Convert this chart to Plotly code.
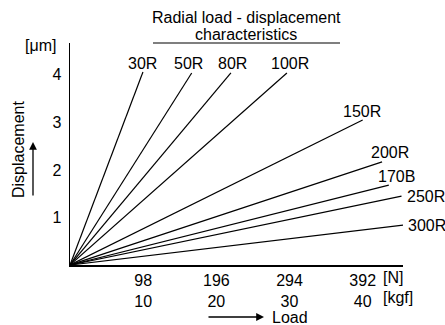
import plotly.graph_objects as go

# ---- data ----
series_names = ["30R", "50R", "80R", "100R", "150R", "200R", "170B", "250R", "300R"]
load_end_N = [97.7, 163, 215.5, 290.5, 392, 418, 427, 444, 446]
disp_end_um = [4.06, 4.04, 4.04, 4.04, 3.05, 2.17, 1.68, 1.45, 0.84]

x_tick_vals = [98, 196, 294, 392]
x_tick_N = ["98", "196", "294", "392"]
x_tick_kgf = ["10", "20", "30", "40"]
y_tick_vals = [1, 2, 3, 4]

FONT = "Liberation Sans, Arial, Helvetica, sans-serif"
FS = 16

fig = go.Figure()
for name, xe, ye in zip(series_names, load_end_N, disp_end_um):
    fig.add_trace(go.Scatter(x=[0, xe], y=[0, ye], mode="lines",
                             line=dict(color="black", width=1.2),
                             name=name, showlegend=False, hoverinfo="skip"))

# label offsets (style only)
label_style = {
    "30R": dict(xanchor="center", xshift=0, yshift=9),
    "50R": dict(xanchor="center", xshift=-3, yshift=9),
    "80R": dict(xanchor="center", xshift=2, yshift=9),
    "100R": dict(xanchor="center", xshift=3, yshift=9),
    "150R": dict(xanchor="center", xshift=-1, yshift=9),
    "200R": dict(xanchor="center", xshift=8, yshift=9),
    "170B": dict(xanchor="center", xshift=8, yshift=9),
    "250R": dict(xanchor="left", xshift=3, yshift=0),
    "300R": dict(xanchor="left", xshift=3, yshift=0),
}
for name, xe, ye in zip(series_names, load_end_N, disp_end_um):
    st = label_style[name]
    fig.add_annotation(x=xe, y=ye, xref="x", yref="y", text=name, showarrow=False,
                       xanchor=st["xanchor"], yanchor="middle",
                       xshift=st["xshift"], yshift=st["yshift"],
                       font=dict(family=FONT, size=FS, color="black"))

W, H = 445, 325
L, R, T, B = 70, 42, 43, 60
pw, ph = W - L - R, H - T - B

def px(x):
    return (x - L) / pw

def py(y):
    return (H - B - y) / ph

ann = []
ann.append(dict(x=px(246), y=py(17), text="Radial load - displacement"))
ann.append(dict(x=px(246), y=py(35), text="characteristics"))
ann.append(dict(x=px(40), y=py(45), text="[μm]"))
ann.append(dict(x=px(393), y=py(277), text="[N]"))
ann.append(dict(x=px(398), y=py(297), text="[kgf]"))
ann.append(dict(x=px(290), y=py(317), text="Load"))
ann.append(dict(x=px(18), y=py(150), text="Displacement", textangle=-90))
for a in ann:
    fig.add_annotation(xref="paper", yref="paper", showarrow=False,
                       xanchor="center", yanchor="middle",
                       font=dict(family=FONT, size=FS, color="black"), **a)

# arrows
fig.add_annotation(xref="paper", yref="paper", x=px(33), y=py(142), ax=0, ay=55,
                   text="", showarrow=True, arrowhead=2, arrowsize=1.2,
                   arrowwidth=1.3, arrowcolor="black")
fig.add_annotation(xref="paper", yref="paper", x=px(264), y=py(317), ax=-57, ay=0,
                   text="", showarrow=True, arrowhead=2, arrowsize=1.2,
                   arrowwidth=1.3, arrowcolor="black")

# underline of title
fig.add_shape(type="line", xref="paper", yref="paper", x0=px(153), x1=px(340),
              y0=1.0, y1=1.0, line=dict(color="black", width=1.2))

fig.update_xaxes(range=[0, 446], showline=True, linecolor="black", linewidth=1.5,
                 showgrid=False, zeroline=False, ticks="",
                 tickvals=x_tick_vals,
                 ticktext=[f"{a}<br>{b}" for a, b in zip(x_tick_N, x_tick_kgf)],
                 tickfont=dict(family=FONT, size=FS, color="black"))
fig.update_yaxes(range=[0, 4.67], showline=True, linecolor="black", linewidth=1.5,
                 showgrid=False, zeroline=False, ticks="",
                 tickvals=y_tick_vals, ticklabelstandoff=4,
                 tickfont=dict(family=FONT, size=FS, color="black"))

fig.update_layout(width=W, height=H, margin=dict(l=L, r=R, t=T, b=B),
                  plot_bgcolor="white", paper_bgcolor="white",
                  font=dict(family=FONT, size=FS, color="black"))

fig.write_html("out.html",
               config={"displayModeBar": False, "staticPlot": True},
               post_script="document.body.style.margin='0';"
                           "document.body.style.overflow='hidden';")
